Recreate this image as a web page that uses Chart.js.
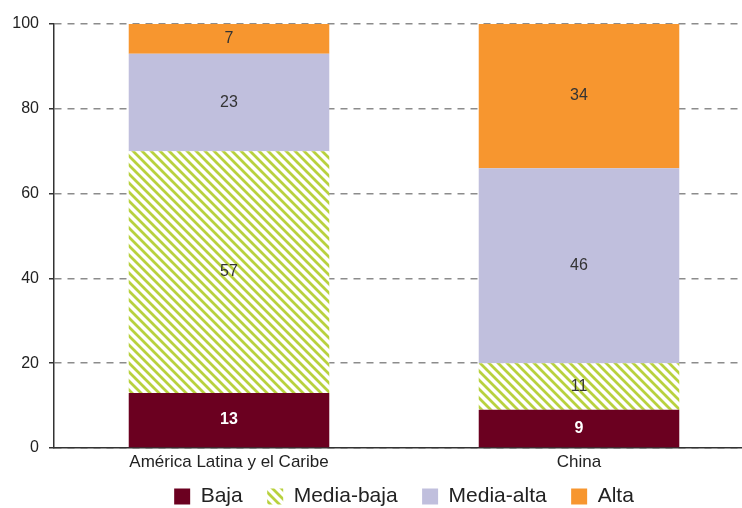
<!DOCTYPE html>
<html>
<head>
<meta charset="utf-8">
<script src="https://cdn.jsdelivr.net/npm/chart.js@4.4.1/dist/chart.umd.min.js"></script>
<style>
  html, body { margin: 0; padding: 0; background: #ffffff; overflow: hidden; }
  #wrap { width: 742px; height: 508px; overflow: hidden; position: relative; }
  canvas { display: block; }
</style>
</head>
<body>
<div id="wrap"><canvas id="chart" width="760" height="508"></canvas></div>
<script>
const categories = ['América Latina y el Caribe', 'China'];
const seriesNames = ['Baja', 'Media-baja', 'Media-alta', 'Alta'];
const baja = [13, 9];
const mediaBaja = [57, 11];
const mediaAlta = [23, 46];
const alta = [7, 34];
const yTicks = [0, 20, 40, 60, 80, 100];

// diagonal green hatch for the "Media-baja" segment
function makeHatch() {
  const s = 9;
  const c = document.createElement('canvas');
  c.width = s; c.height = s;
  const g = c.getContext('2d');
  g.fillStyle = '#ffffff';
  g.fillRect(0, 0, s, s);
  g.strokeStyle = '#b8d13e';
  g.lineWidth = 2.8;
  g.beginPath();
  g.moveTo(-2, -2); g.lineTo(s + 2, s + 2);
  g.moveTo(-3, s - 3); g.lineTo(3, s + 3);
  g.moveTo(s - 3, -3); g.lineTo(s + 3, 3);
  g.stroke();
  return g.createPattern(c, 'repeat');
}
const ctx = document.getElementById('chart').getContext('2d');
const hatch = makeHatch();

const labelColors = ['#ffffff', '#333333', '#333333', '#333333'];
const labelWeights = ['bold', 'normal', 'normal', 'normal'];

const valueLabels = {
  id: 'valueLabels',
  afterDatasetsDraw(chart) {
    const c = chart.ctx;
    chart.data.datasets.forEach((ds, di) => {
      const meta = chart.getDatasetMeta(di);
      meta.data.forEach((bar, i) => {
        const v = ds.data[i];
        const yMid = (bar.y + bar.base) / 2;
        c.save();
        c.font = labelWeights[di] + ' 16px "Liberation Sans", Arial, sans-serif';
        c.fillStyle = labelColors[di];
        c.textAlign = 'center';
        c.textBaseline = 'middle';
        c.fillText(String(v), bar.x, yMid);
        c.restore();
      });
    });
  }
};

const common = { barPercentage: 0.573, categoryPercentage: 1.0, borderWidth: 0 };

new Chart(ctx, {
  type: 'bar',
  data: {
    labels: categories,
    datasets: [
      Object.assign({ label: seriesNames[0], data: baja, backgroundColor: '#6b0020' }, common),
      Object.assign({ label: seriesNames[1], data: mediaBaja, backgroundColor: hatch }, common),
      Object.assign({ label: seriesNames[2], data: mediaAlta, backgroundColor: '#c0bfdd' }, common),
      Object.assign({ label: seriesNames[3], data: alta, backgroundColor: '#f7962f' }, common)
    ]
  },
  options: {
    responsive: false,
    animation: false,
    layout: { padding: { top: 24, right: 6, bottom: 0, left: 0 } },
    plugins: {
      tooltip: { enabled: false },
      legend: {
        position: 'bottom',
        fullSize: false,
        maxHeight: 36,
        labels: {
          boxWidth: 16,
          boxHeight: 16,
          padding: 14,
          color: '#222222',
          font: { family: '"Liberation Sans", Arial, sans-serif', size: 21 },
          generateLabels(chart) {
            const items = Chart.defaults.plugins.legend.labels.generateLabels(chart);
            // extra room between legend entries
            items.forEach((it, i) => { if (i < items.length - 1) it.text = it.text + '\u2002'; });
            return items;
          }
        }
      }
    },
    scales: {
      x: {
        stacked: true,
        grid: { display: false, drawTicks: false },
        border: { display: true, color: '#333333', width: 1.5 },
        ticks: {
          color: '#222222',
          padding: 4,
          font: { family: '"Liberation Sans", Arial, sans-serif', size: 17 }
        },
        afterFit(scale) { scale.height = 24; }
      },
      y: {
        stacked: true,
        min: 0,
        max: 100,
        afterBuildTicks(scale) { scale.ticks = yTicks.map(v => ({ value: v })); },
        grid: {
          color: '#8c8c8c',
          lineWidth: 1.5,
          tickLength: 5,
          tickColor: '#333333',
          tickBorderDash: []
        },
        border: { display: true, color: '#333333', width: 1.5, dash: [7, 6] },
        ticks: {
          color: '#222222',
          padding: 10,
          font: { family: '"Liberation Sans", Arial, sans-serif', size: 16 }
        },
        afterFit(scale) { scale.width = 54; }
      }
    }
  },
  plugins: [valueLabels]
});
</script>
</body>
</html>
